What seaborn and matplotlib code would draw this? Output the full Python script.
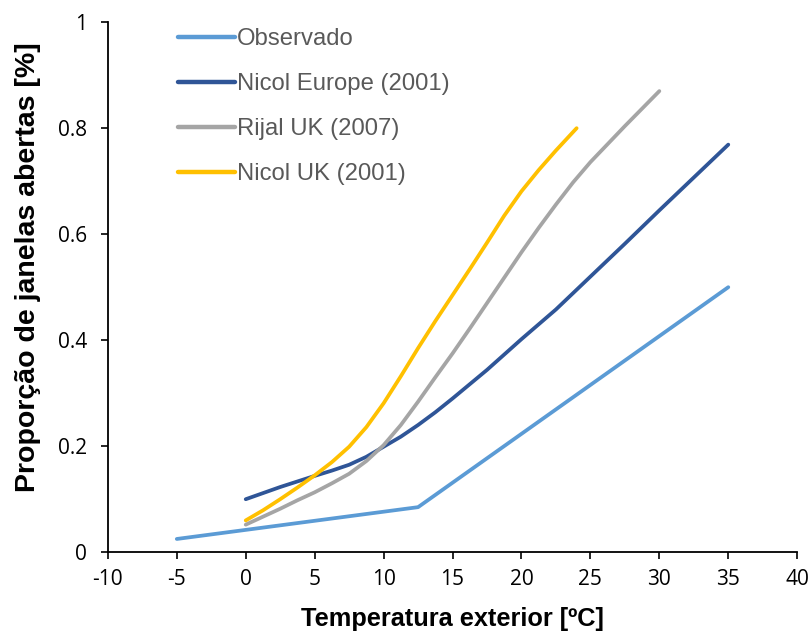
import matplotlib
matplotlib.use("Agg")
import matplotlib.pyplot as plt
import seaborn as sns
import pandas as pd

# Data
obs_x = [-5, 12.5, 35]
obs_y = [0.025, 0.085, 0.50]

ne_x = [0, 2.5, 5, 6.25, 7.5, 8.75, 10, 11.25, 12.5, 13.75, 15, 17.5, 20, 22.5, 25, 27.5, 30, 32.5, 35]
ne_y = [0.100, 0.123, 0.144, 0.154, 0.165, 0.180, 0.199, 0.218, 0.240, 0.264, 0.290, 0.344, 0.402,
        0.458, 0.520, 0.582, 0.645, 0.707, 0.769]

rj_x = [0, 1.25, 2.5, 3.75, 5, 6.25, 7.5, 8.75, 10, 11.25, 12.5, 13.75, 15,
        16.25, 17.5, 18.75, 20, 21.25, 22.5, 23.75, 25, 26.25, 27.5, 28.75, 30]
rj_y = [0.052, 0.067, 0.082, 0.098, 0.113, 0.130, 0.148, 0.172, 0.202, 0.240, 0.284, 0.330, 0.375,
        0.422, 0.470, 0.518, 0.566, 0.612, 0.656, 0.698, 0.736, 0.770, 0.804, 0.837, 0.870]

nu_x = [0, 1.25, 2.5, 3.75, 5, 6.25, 7.5, 8.75, 10, 11.25, 12.5, 13.75, 15,
        16.25, 17.5, 18.75, 20, 21.25, 22.5, 24]
nu_y = [0.060, 0.079, 0.100, 0.122, 0.145, 0.170, 0.199, 0.236, 0.281, 0.332, 0.385, 0.436, 0.485,
        0.534, 0.584, 0.635, 0.681, 0.721, 0.758, 0.800]

series_names = ["Observado", "Nicol Europe (2001)", "Rijal UK (2007)", "Nicol UK (2001)"]
colors = ["#5B9BD5", "#2F5597", "#A5A5A5", "#FFC000"]

x_ticks = [-10, -5, 0, 5, 10, 15, 20, 25, 30, 35, 40]
y_ticks = [0, 0.2, 0.4, 0.6, 0.8, 1.0]
y_tick_labels = ["0", "0.2", "0.4", "0.6", "0.8", "1"]

frames = []
for name, xs, ys in zip(series_names, [obs_x, ne_x, rj_x, nu_x], [obs_y, ne_y, rj_y, nu_y]):
    frames.append(pd.DataFrame({"x": xs, "y": ys, "serie": name}))
df = pd.concat(frames, ignore_index=True)

sns.set_style("white")
plt.rcParams["font.family"] = ["Open Sans", "DejaVu Sans"]

fig = plt.figure(figsize=(8.11, 6.34), dpi=100)
ax = fig.add_axes([0.133, 0.129, 0.850, 0.836])

sns.lineplot(data=df, x="x", y="y", hue="serie", hue_order=series_names,
             palette=colors, linewidth=2.7, sort=False, estimator=None,
             ax=ax, legend=True)
for ln in ax.get_lines():
    ln.set_solid_capstyle("round")
    ln.set_solid_joinstyle("round")

ax.set_xlim(-10, 40)
ax.set_ylim(0, 1)
ax.set_xticks(x_ticks)
ax.set_xticklabels([str(t) for t in x_ticks])
ax.set_yticks(y_ticks)
ax.set_yticklabels(y_tick_labels)
ax.tick_params(axis="both", which="major", labelsize=15, colors="black",
               direction="out", length=5, width=1.2, bottom=True, left=True)
ax.tick_params(axis="x", pad=7)
ax.tick_params(axis="y", pad=10)
for side in ["top", "right"]:
    ax.spines[side].set_visible(False)
for side in ["left", "bottom"]:
    ax.spines[side].set_color("black")
    ax.spines[side].set_linewidth(1.3)

lab_font = ["Liberation Sans", "DejaVu Sans"]
ax.set_xlabel("Temperatura exterior [ºC]", fontsize=18.3, fontweight="bold",
              family=lab_font, color="black", labelpad=12)
ax.set_ylabel("Proporção de janelas abertas [%]", fontsize=20.5, fontweight="bold",
              family=lab_font, color="black")
ax.yaxis.set_label_coords(-0.097, 0.538)

leg = ax.legend(loc="upper left", bbox_to_anchor=(0.0704, 1.029), frameon=False,
                handlelength=2.38, handletextpad=0.1, labelspacing=0.96,
                prop={"family": lab_font, "size": 17.2})
for t in leg.get_texts():
    t.set_color("#595959")
for h in leg.get_lines():
    h.set_linewidth(3.2)

fig.savefig("out.png", dpi=100, facecolor="white")
